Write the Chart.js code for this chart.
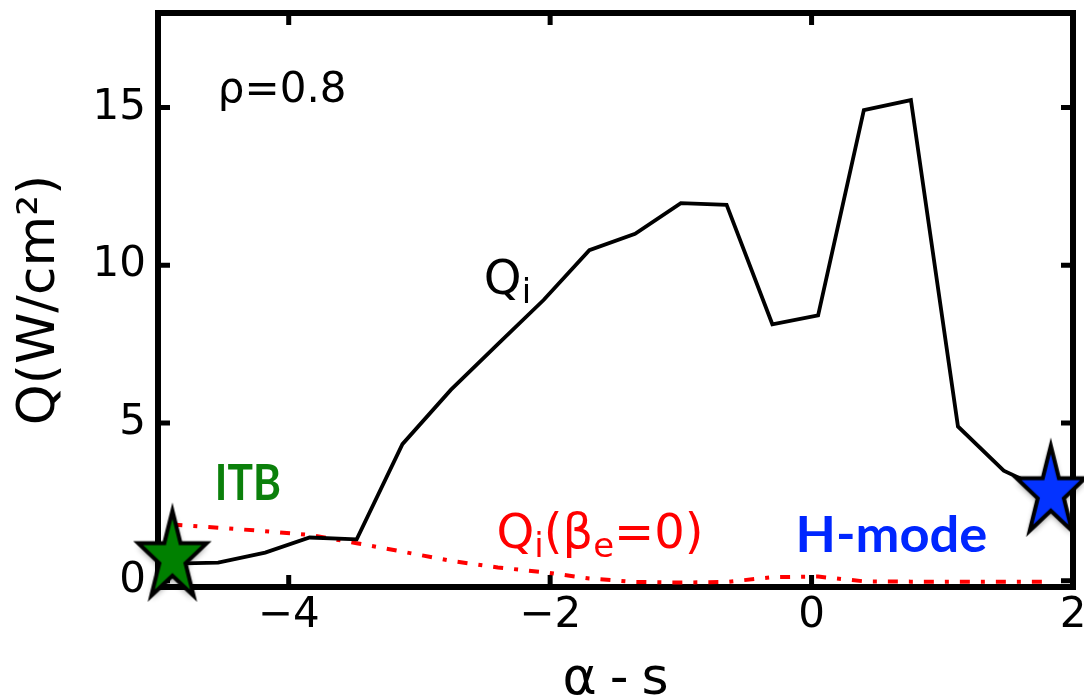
<!DOCTYPE html>
<html lang="en">
<head>
  <meta charset="UTF-8" />
  <title>Q vs alpha - s</title>
  <script src="https://cdn.jsdelivr.net/npm/chart.js"></script>
  <style>
    html, body { margin: 0; padding: 0; background: #fff; }
    #wrap { width: 1084px; height: 699px; }
  </style>
</head>
<body>
  <div id="wrap"><canvas id="fluxChart" width="1084" height="699"></canvas></div>

  <script>
    // alpha - s scan at rho = 0.8
    const alphaS = [-4.89, -4.54, -4.18, -3.84, -3.48, -3.13, -2.76, -2.40, -2.05, -1.70,
                    -1.35, -1.00, -0.65, -0.30, 0.05, 0.40, 0.76, 1.12, 1.47, 1.83];
    const qiFlux = [0.54, 0.57, 0.89, 1.37, 1.31, 4.33, 6.05, 7.50, 8.90, 10.48,
                    11.00, 11.97, 11.92, 8.13, 8.41, 14.92, 15.24, 4.89, 3.49, 2.79];
    const qiFluxNoBeta = [1.78, 1.68, 1.57, 1.45, 1.19, 0.92, 0.63, 0.42, 0.27, 0.07,
                          -0.04, -0.06, -0.04, 0.11, 0.13, -0.02, -0.03, -0.03, -0.03, -0.03];
    // ITB and H-mode operating points
    const starAlphaS = [-4.89, 1.83];
    const starFlux = [0.73, 2.79];
    const starFills = ['#008000', '#0433ff'];

    const xTickValues = [-4, -2, 0, 2];
    const yTickValues = [0, 5, 10, 15];

    const toPoints = (xs, ys) => xs.map((v, i) => ({ x: v, y: ys[i] }));

    function makeStar(fill) {
      const c = document.createElement('canvas');
      c.width = 110;
      c.height = 120;
      const g = c.getContext('2d');
      const cx = 55, cy = 60, rx = 36, ry = 47, inner = 0.382;
      g.beginPath();
      for (let k = 0; k < 10; k++) {
        const a = -Math.PI / 2 + k * Math.PI / 5;
        const r = k % 2 ? inner : 1;
        g.lineTo(cx + Math.cos(a) * rx * r, cy + Math.sin(a) * ry * r);
      }
      g.closePath();
      g.shadowColor = 'rgba(0,0,0,0.45)';
      g.shadowBlur = 6;
      g.shadowOffsetY = 3;
      g.fillStyle = fill;
      g.fill();
      g.shadowColor = 'transparent';
      g.lineWidth = 4;
      g.lineJoin = 'miter';
      g.strokeStyle = '#000';
      g.stroke();
      return c;
    }

    // box round the plot with inward ticks on every side
    const frame = {
      id: 'frame',
      beforeDatasetsDraw(chart) {
        const { ctx, chartArea: a, scales: { x, y } } = chart;
        ctx.save();
        ctx.strokeStyle = '#000';
        ctx.lineWidth = 5;
        ctx.beginPath();
        xTickValues.forEach(v => {
          const px = x.getPixelForValue(v);
          ctx.moveTo(px, a.bottom); ctx.lineTo(px, a.bottom - 12);
          ctx.moveTo(px, a.top); ctx.lineTo(px, a.top + 12);
        });
        yTickValues.forEach(v => {
          const py = y.getPixelForValue(v);
          ctx.moveTo(a.left, py); ctx.lineTo(a.left + 12, py);
          ctx.moveTo(a.right, py); ctx.lineTo(a.right - 12, py);
        });
        ctx.stroke();
        ctx.lineWidth = 6;
        ctx.strokeRect(a.left, a.top, a.right - a.left, a.bottom - a.top);
        ctx.restore();
      }
    };

    // text runs with subscripts, e.g. Q_i
    function drawRuns(ctx, runs, x, y, color) {
      ctx.fillStyle = color;
      ctx.textBaseline = 'alphabetic';
      ctx.textAlign = 'left';
      runs.forEach(r => {
        ctx.font = (r.sub ? 34 : 48) + 'px "DejaVu Sans"';
        ctx.fillText(r.t, x, y + (r.sub ? 9 : 0));
        x += ctx.measureText(r.t).width;
      });
    }

    // bold label squeezed or stretched sideways
    function drawWide(ctx, text, x, y, sx) {
      ctx.save();
      ctx.translate(x, y);
      ctx.scale(sx, 1);
      ctx.fillText(text, 0, 0);
      ctx.restore();
    }

    const notes = {
      id: 'notes',
      afterDatasetsDraw(chart) {
        const { ctx, scales: { x, y } } = chart;
        ctx.save();

        ctx.fillStyle = '#000';
        ctx.font = '42px "DejaVu Sans"';
        ctx.textBaseline = 'alphabetic';
        ctx.fillText('ρ=0.8', x.getPixelForValue(-4.542), y.getPixelForValue(15.18));

        drawRuns(ctx, [{ t: 'Q' }, { t: 'i', sub: true }],
          x.getPixelForValue(-2.507), y.getPixelForValue(9.09), '#000');

        drawRuns(ctx, [{ t: 'Q' }, { t: 'i', sub: true }, { t: '(β' }, { t: 'e', sub: true }, { t: '=0)' }],
          x.getPixelForValue(-2.41), y.getPixelForValue(1.04), '#ff0000');

        ctx.font = 'bold 50px Lato';
        ctx.fillStyle = '#0b800b';
        drawWide(ctx, 'ITB', x.getPixelForValue(-4.565), y.getPixelForValue(2.56), 0.85);

        ctx.font = 'bold 49px Lato';
        ctx.fillStyle = '#0026ff';
        drawWide(ctx, 'H-mode', x.getPixelForValue(-0.122), y.getPixelForValue(0.91), 1.07);

        ctx.restore();
      }
    };

    const tickFont = { family: 'DejaVu Sans', size: 42 };
    const minus = v => String(v).replace('-', '\u2212');

    // fixed axis boxes, no extra room for overhanging end labels
    const fixBox = size => s => {
      if (s.isHorizontal()) s.height = size; else s.width = size;
      s.paddingTop = s.paddingBottom = s.paddingLeft = s.paddingRight = 0;
    };

    new Chart(document.getElementById('fluxChart'), {
      type: 'scatter',
      data: {
        datasets: [
          {
            label: 'operating points',
            data: toPoints(starAlphaS, starFlux),
            pointStyle: starFills.map(makeStar),
            pointRadius: 10,
            clip: false,
            order: 0
          },
          {
            label: 'Qi',
            data: toPoints(alphaS, qiFlux),
            showLine: true,
            borderColor: '#000',
            borderWidth: 3.8,
            pointRadius: 0,
            tension: 0,
            order: 1
          },
          {
            label: 'Qi beta_e = 0',
            data: toPoints(alphaS, qiFluxNoBeta),
            showLine: true,
            borderColor: '#ff0000',
            borderWidth: 4,
            borderDash: [10, 11, 4, 11],
            pointRadius: 0,
            tension: 0,
            order: 2
          }
        ]
      },
      options: {
        responsive: false,
        animation: false,
        devicePixelRatio: 1,
        layout: { padding: { top: 13, right: 9, left: 0, bottom: 0 } },
        plugins: { legend: { display: false }, tooltip: { enabled: false } },
        scales: {
          x: {
            type: 'linear',
            min: -5,
            max: 2,
            afterBuildTicks: s => { s.ticks = xTickValues.map(v => ({ value: v })); },
            afterFit: fixBox(112),
            grid: { display: false, drawTicks: false },
            border: { display: false },
            ticks: { font: tickFont, color: '#000', padding: 4, autoSkip: false, maxRotation: 0, callback: minus },
            title: {
              display: true,
              text: 'α\u2005-\u2005s',
              color: '#000',
              font: { family: 'DejaVu Sans', size: 52, lineHeight: 0.7 },
              padding: 0
            }
          },
          y: {
            type: 'linear',
            min: -0.2,
            max: 18,
            afterBuildTicks: s => { s.ticks = yTickValues.map(v => ({ value: v })); },
            afterFit: fixBox(158),
            grid: { display: false, drawTicks: false },
            border: { display: false },
            ticks: { font: tickFont, color: '#000', padding: 12, autoSkip: false, callback: minus },
            title: {
              display: true,
              text: 'Q(W/cm²)',
              color: '#000',
              font: { family: 'DejaVu Sans', size: 52, lineHeight: 1.2 },
              padding: { top: 9, bottom: 0 }
            }
          }
        }
      },
      plugins: [frame, notes]
    });
  </script>
</body>
</html>
